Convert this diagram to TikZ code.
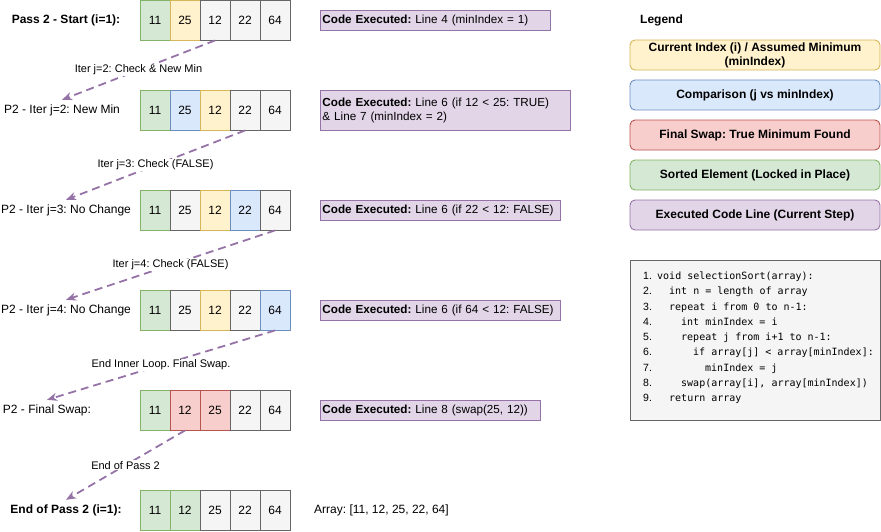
\documentclass[tikz,border=0pt]{standalone}
\usepackage{fontspec}
\setmainfont{Liberation Sans}
\newfontfamily\codefont{DejaVu Sans Mono}
\usetikzlibrary{arrows.meta}
\definecolor{gfill}{HTML}{D5E8D4}\definecolor{gline}{HTML}{82B366}
\definecolor{yfill}{HTML}{FFF2CC}\definecolor{yline}{HTML}{D6B656}
\definecolor{bfill}{HTML}{DAE8FC}\definecolor{bline}{HTML}{6C8EBF}
\definecolor{rfill}{HTML}{F8CECC}\definecolor{rline}{HTML}{B85450}
\definecolor{pfill}{HTML}{E1D5E7}\definecolor{pline}{HTML}{9673A6}
\definecolor{kfill}{HTML}{F5F5F5}\definecolor{kline}{HTML}{666666}
\newcommand\myfont{\frenchspacing\fontsize{12}{14}\selectfont}
\newcommand\mybold{\frenchspacing\fontsize{12}{14}\selectfont\bfseries}
\newcommand\mysmall{\frenchspacing\fontsize{11}{13}\selectfont}
\newcommand\mybox{\frenchspacing\fontsize{11.7}{14}\selectfont}
\frenchspacing
\begin{document}
\begin{tikzpicture}[x=1pt,y=-1pt,
  cell/.style={draw, minimum width=30pt, minimum height=40pt, inner sep=0pt, line width=0.9pt, font=\myfont},
  cgreen/.style={fill=gfill, draw=gline},
  cyellow/.style={fill=yfill, draw=yline},
  cblue/.style={fill=bfill, draw=bline},
  cred/.style={fill=rfill, draw=rline},
  cgray/.style={fill=kfill, draw=kline},
  rlabel/.style={inner sep=0pt, minimum height=20pt, font=\myfont},
  rbold/.style={rlabel, font=\mybold},
  codebox/.style={draw=pline, fill=pfill, line width=0.9pt, inner xsep=2pt, inner ysep=0pt, minimum height=20pt, align=left, anchor=west, font=\mybox},
  legbox/.style={rounded corners=5pt, minimum width=250pt, minimum height=30pt, inner sep=0pt, align=center, font=\mybold, line width=0.9pt},
  flow/.style={draw=pline, line width=1.8pt, dash pattern=on 8pt off 5pt, -{Stealth[length=10pt,width=8pt,inset=3pt]}},
  elabel/.style={midway, fill=white, inner sep=1pt, font=\mysmall},
  codeline/.style={anchor=west, inner sep=0pt, text height=7.5pt, text depth=2.5pt, font=\codefont\fontsize{10}{12}\selectfont},
  numline/.style={anchor=west, inner sep=0pt, text height=7.5pt, text depth=2.5pt, font=\fontsize{10.5}{12}\selectfont}
]
\useasboundingbox (0,0) rectangle (881,531);

% array rows
\foreach \v/\s [count=\i] in {11/cgreen,25/cyellow,12/cgray,22/cgray,64/cgray}
  \node[cell,\s] (r1c\i) at ({125+30*\i},20) {\v};
\foreach \v/\s [count=\i] in {11/cgreen,25/cblue,12/cyellow,22/cgray,64/cgray}
  \node[cell,\s] (r2c\i) at ({125+30*\i},110) {\v};
\foreach \v/\s [count=\i] in {11/cgreen,25/cgray,12/cyellow,22/cblue,64/cgray}
  \node[cell,\s] (r3c\i) at ({125+30*\i},210) {\v};
\foreach \v/\s [count=\i] in {11/cgreen,25/cgray,12/cyellow,22/cgray,64/cblue}
  \node[cell,\s] (r4c\i) at ({125+30*\i},310) {\v};
\foreach \v/\s [count=\i] in {11/cgreen,12/cred,25/cred,22/cgray,64/cgray}
  \node[cell,\s] (r5c\i) at ({125+30*\i},410) {\v};
\foreach \v/\s [count=\i] in {11/cgreen,12/cgreen,25/cgray,22/cgray,64/cgray}
  \node[cell,\s] (r6c\i) at ({125+30*\i},510) {\v};

% row labels
\node[rbold]  (l1) at (66,20)  {Pass 2 - Start (i=1):};
\node[rlabel] (l2) at (62,110) {P2 - Iter j=2: New Min};
\node[rlabel] (l3) at (66,210) {P2 - Iter j=3: No Change};
\node[rlabel] (l4) at (66,310) {P2 - Iter j=4: No Change};
\node[rlabel] (l5) at (47,410) {P2 - Final Swap:};
\node[rbold]  (l6) at (66,510) {End of Pass 2 (i=1):};

% connectors
\draw[flow] (r1c3.south) -- node[elabel] {Iter j=2: Check \& New Min} (l2.north);
\draw[flow] (r2c4.south) -- node[elabel] {Iter j=3: Check (FALSE)} (l3.north);
\draw[flow] (r3c5.south) -- node[elabel] {Iter j=4: Check (FALSE)} (l4.north);
\draw[flow] (r4c5.south) -- node[elabel] {End Inner Loop. Final Swap.} (l5.north);
\draw[flow] (r5c2.south) -- node[elabel] {End of Pass 2} (l6.north);

% code executed boxes
\node[codebox, text width=226pt] (c1) at (320,20) {\mbox{\textbf{Code Executed:} Line 4 (minIndex = 1)}};
\node[codebox, text width=246pt, minimum height=40pt] (c2) at (320,110) {\mbox{\textbf{Code Executed:} Line 6 (if 12 < 25: TRUE)}\\\& Line 7 (minIndex = 2)};
\node[codebox, text width=236pt] (c3) at (320,210) {\mbox{\textbf{Code Executed:} Line 6 (if 22 < 12: FALSE)}};
\node[codebox, text width=236pt] (c4) at (320,310) {\mbox{\textbf{Code Executed:} Line 6 (if 64 < 12: FALSE)}};
\node[codebox, text width=216pt] (c5) at (320,410) {\mbox{\textbf{Code Executed:} Line 8 (swap(25, 12))}};
\node[anchor=west, inner sep=0pt, font=\myfont] (arr) at (314,510) {Array: [11, 12, 25, 22, 64]};

% legend
\node[anchor=west, inner sep=0pt, font=\mybold] (leg) at (640,20) {Legend};
\node[legbox, fill=yfill, draw=yline] (k1) at (755,55) {Current Index (i) / Assumed Minimum\\(minIndex)};
\node[legbox, fill=bfill, draw=bline] (k2) at (755,95) {Comparison (j vs minIndex)};
\node[legbox, fill=rfill, draw=rline] (k3) at (755,135) {Final Swap: True Minimum Found};
\node[legbox, fill=gfill, draw=gline] (k4) at (755,175) {Sorted Element (Locked in Place)};
\node[legbox, fill=pfill, draw=pline] (k5) at (755,215) {Executed Code Line (Current Step)};

% code panel
\node[draw=kline, fill=kfill, minimum width=250pt, minimum height=160pt, inner sep=0pt, line width=0.9pt] (code) at (755,340) {};
\foreach \t/\ind [count=\k] in {{void selectionSort(array):}/0,
    {int n = length of array}/2,
    {repeat i from 0 to n-1:}/2,
    {int minIndex = i}/4,
    {repeat j from i+1 to n-1:}/4,
    {if array[j] < array[minIndex]:}/6,
    {minIndex = j}/8,
    {swap(array[i], array[minIndex])}/4,
    {return array}/2} {
  \node[numline] (n\k) at (643,{277+15.25*(\k-1)}) {\k.};
  \node[codeline] (t\k) at ({657+6*\ind},{277+15.25*(\k-1)}) {\t};
}
\end{tikzpicture}
\end{document}
